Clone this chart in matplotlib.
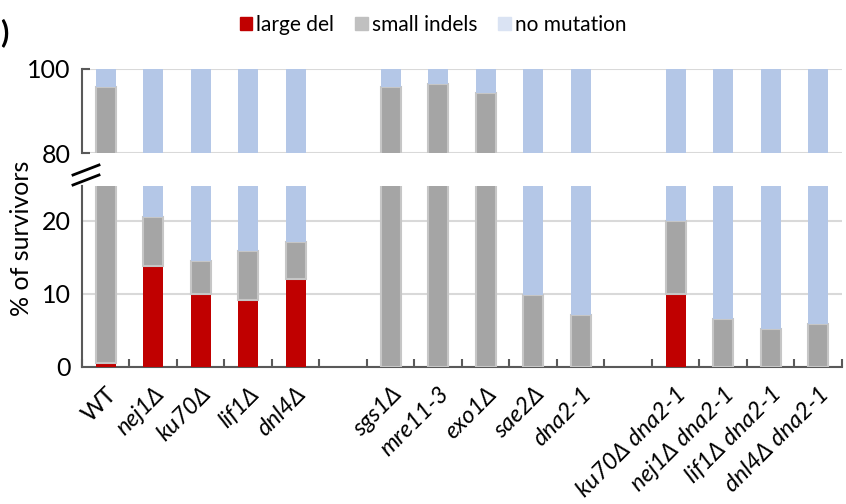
import matplotlib.pyplot as plt
from matplotlib.patches import Patch
from matplotlib.lines import Line2D

plt.rcParams['font.family'] = ['Lato', 'DejaVu Sans']

# strains, with empty slots separating the three groups
strains = ["WT", "nej1Δ", "ku70Δ", "lif1Δ", "dnl4Δ",
           "sgs1Δ", "mre11-3", "exo1Δ", "sae2Δ", "dna2-1",
           "ku70Δ dna2-1", "nej1Δ dna2-1", "lif1Δ dna2-1", "dnl4Δ dna2-1"]
slots = [0, 1, 2, 3, 4, 6, 7, 8, 9, 10, 12, 13, 14, 15]

# % of survivors per outcome
large_del = [0.5, 13.8, 9.9, 9.2, 12.0, 0, 0, 0, 0, 0, 9.9, 0, 0, 0]
small_indels = [95.3, 6.7, 4.6, 6.6, 5.1, 95.8, 96.4, 94.4, 9.8, 7.1, 10.0, 6.5, 5.1, 5.8]
no_mutation = [100 - a - b for a, b in zip(large_del, small_indels)]

red = "#c00000"
grey = "#a5a5a5"
blue = "#b4c7e7"
spine = "#595959"
grid = "#d9d9d9"

fig = plt.figure(figsize=(8.46, 5.04), dpi=100)
ax_top = fig.add_axes([0.0969, 0.6958, 0.8983, 0.1673])
ax_bot = fig.add_axes([0.0969, 0.2724, 0.8983, 0.3585])

w = 0.42
for ax in (ax_top, ax_bot):
    ax.bar(slots, large_del, w, color=red, zorder=3)
    ax.bar(slots, small_indels, w, bottom=large_del, color=grey,
           edgecolor="#c6c6c6", linewidth=1.5, zorder=3)
    base = [a + b for a, b in zip(large_del, small_indels)]
    ax.bar(slots, no_mutation, w, bottom=base, color=blue, zorder=3)
    ax.set_xlim(-0.5, 15.5)
    for s in ax.spines.values():
        s.set_visible(False)
    ax.yaxis.grid(True, color=grid, linewidth=1.5, zorder=0)
    ax.tick_params(axis="y", labelsize=18, colors="black")

# upper part: 80-100
ax_top.set_ylim(80, 100)
ax_top.set_yticks([80, 100])
ax_top.set_xticks([])
ax_top.spines["left"].set_visible(True)
ax_top.spines["left"].set_color(spine)
ax_top.spines["left"].set_linewidth(1.5)
ax_top.tick_params(axis="y", direction="in", length=6, width=1.5, color=spine, pad=8)

# lower part: 0-25
ax_bot.set_ylim(0, 24.75)
ax_bot.set_yticks([0, 10, 20])
ax_bot.spines["left"].set_visible(True)
ax_bot.spines["bottom"].set_visible(True)
for k in ("left", "bottom"):
    ax_bot.spines[k].set_color(spine)
    ax_bot.spines[k].set_linewidth(1.5)
ax_bot.tick_params(axis="y", length=0, pad=8)
ax_bot.set_xticks(slots)
ax_bot.set_xticklabels(strains, rotation=45, ha="right", rotation_mode="anchor",
                       fontsize=17)
for lbl in ax_bot.get_xticklabels():
    if lbl.get_text() != "WT":
        lbl.set_fontstyle("italic")
ax_bot.tick_params(axis="x", which="major", length=0, pad=12)
ax_bot.set_xticks([i - 0.5 for i in range(17)], minor=True)
ax_bot.tick_params(axis="x", which="minor", direction="in", length=6, width=1.5, color=spine)

# axis break marks
for y0 in (175, 185):
    fig.add_artist(Line2D([73 / 846, 99 / 846], [1 - y0 / 504, 1 - (y0 - 10) / 504],
                          color="black", linewidth=2))

fig.text(0.026, 0.527, "% of survivors", rotation=90, ha="center", va="center", fontsize=18)
fig.text(0.0, 0.935, ")", fontsize=22, fontweight="bold", ha="left", va="center")

handles = [Patch(color=red), Patch(color="#c0c0c0"), Patch(color="#dae3f3")]
fig.legend(handles, ["large del", "small indels", "no mutation"], loc="center",
           bbox_to_anchor=(0.512, 0.95), ncol=3, frameon=False, fontsize=15,
           handlelength=0.6, handleheight=0.6, handletextpad=0.2, columnspacing=1.0)

fig.savefig("out.png", dpi=100)
